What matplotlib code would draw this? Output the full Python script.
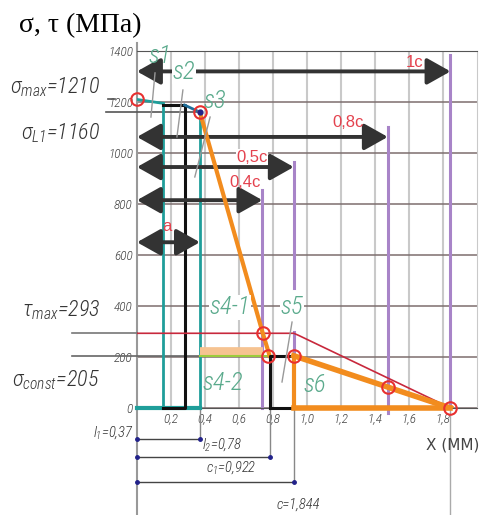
import numpy as np
import matplotlib.pyplot as plt

NARROW = ['Roboto Condensed', 'DejaVu Sans Condensed', 'Liberation Sans Narrow',
          'Roboto', 'DejaVu Sans']
plt.rcParams['mathtext.fontset'] = 'custom'
plt.rcParams['mathtext.it'] = 'Roboto Condensed:italic:light'
plt.rcParams['mathtext.rm'] = 'Roboto Condensed:italic:light'

# values (x in mm, stress in MPa)
c = 1.844
l1, l2, c1 = 0.37, 0.78, 0.922
sig_max, sig_l1, tau_max, sig_const = 1210, 1160, 293, 205

teal_x, teal_y = [0, 0.15], [1210, 1195]
box_x, box_y = [0.15, 0.28, 0.28, 0.15], [1190, 1190, 0, 0]
s3_x, s3_y = [0.28, 0.37], [1188, 1160]
orange_x, orange_y = [0.37, 0.74, 0.78], [1160, 293, 205]
step_x, step_y = [0.78, 0.78, 0.922], [0, 205, 205]
tail_x, tail_y = [0.922, 1.475, 1.844], [205, 82, 0]
tau_x, tau_y = [0, 0.922, 0.95, 1.844], [293, 293, 285, 0]
shelf_x, shelf_y = [0.37, 0.74], [218, 218]
ring_x = [0, 0.37, 0.74, 0.77, 0.922, 1.475, 1.844]
ring_y = [1210, 1160, 293, 205, 205, 82, 0]

fracs = [0.4, 0.5, 0.8, 1.0]
frac_labels = ['0,4c', '0,5c', '0,8c', '1c']
arrow_y = [815, 945, 1063, 1320]
frac_top = [855, 965, 1102, 1384]
frac_lab_x = [0.635, 0.676, 1.24, 1.635]
frac_lab_y = [886, 984, 1118, 1356]

xticks = [0.2, 0.4, 0.6, 0.8, 1.0, 1.2, 1.4, 1.6, 1.8]
xtick_labels = ['0,2', '0,4', '0,6', '0,8', '1,0', '1,2', '1,4', '1,6', '1,8']
yticks = [0, 200, 400, 600, 800, 1000, 1200, 1400]

sec_labels = ['s1', 's2', 's3', 's4-1', 's4-2', 's5', 's6']
sec_x = [0.135, 0.276, 0.46, 0.547, 0.506, 0.912, 1.047]
sec_y = [1380, 1318, 1204, 396, 98, 396, 90]
lead = [((0.106, 1314), (0.082, 1141)), ((0.27, 1247), (0.235, 1063)),
        ((0.43, 1141), (0.34, 906)), ((0.912, 337), (0.853, 102))]

fig = plt.figure(figsize=(4.79, 5.15), dpi=100)
ax = fig.add_axes([137/479, 1 - 408/515, 340/479, 357/515])
ax.set_xlim(0, 2.0)
ax.set_ylim(0, 1400)

# grid
ax.set_xticks(xticks, xtick_labels)
ax.set_yticks(yticks, [str(v) for v in yticks])
ax.tick_params(length=0, labelsize=9.5, colors='#444', pad=3)
for lab in ax.get_xticklabels() + ax.get_yticklabels():
    lab.set_family(NARROW)
    lab.set_style('italic')
    lab.set_weight('light')
ax.xaxis.grid(True, color='#c9c9c9', lw=1.5, zorder=0)
ax.yaxis.grid(True, color='#7d6e6e', lw=1.1, zorder=0)
ax.set_axisbelow(True)
for s in ['top', 'bottom']:
    ax.spines[s].set_color('#555')
ax.spines['right'].set_color('#c9c9c9')
ax.spines['left'].set_visible(False)
ax.plot([0, 0], [-420, 1430], color='#999', lw=1.5, clip_on=False, zorder=1)

# reference levels on the left
ax.plot([-0.38, 0], [tau_max, tau_max], color='#777', lw=1.2, clip_on=False)
ax.plot([-0.38, l1], [sig_const, sig_const], color='#666', lw=1.2, clip_on=False)
ax.plot([-0.18, l1], [sig_l1, sig_l1], color='#555', lw=1.2, clip_on=False)
ax.plot([-0.17, -0.13], [sig_max, sig_max], color='#555', lw=1.2, clip_on=False)

# fraction lines and arrows
head = '<|-|>,head_length=0.8,head_width=0.45'
for f, yt in zip(fracs, frac_top):
    if f == 0.5:
        ax.plot([f*c, f*c], [yt, 470], color='#a884c8', lw=2.2, zorder=2)
        ax.plot([f*c, f*c], [300, 205], color='#a884c8', lw=2.2, zorder=2)
    else:
        ax.plot([f*c, f*c], [yt, -20 if f == 0.8 else 0], color='#a884c8', lw=2.2,
                zorder=2, clip_on=False)
for f, ya in zip(fracs, arrow_y):
    ax.annotate('', xy=(f*c, ya), xytext=(0, ya),
                arrowprops=dict(arrowstyle=head, color='#333', lw=2.8, shrinkA=0,
                                shrinkB=0, mutation_scale=18), zorder=4)
for lab, x, y in zip(frac_labels, frac_lab_x, frac_lab_y):
    ax.text(x, y, lab, color='#e4424e', fontsize=12, family='Liberation Sans',
            ha='center', va='center', zorder=5,
            bbox=dict(fc='white', ec='none', pad=0.1) if lab == '0,5c' else None)
ax.annotate('', xy=(l1, 650), xytext=(0, 650),
            arrowprops=dict(arrowstyle=head, color='#333', lw=2.8, shrinkA=0,
                            shrinkB=0, mutation_scale=18), zorder=4)
ax.text(0.176, 710, 'a', color='#e4424e', fontsize=12, family='Liberation Sans',
        ha='center', va='center', zorder=5)

# stress diagram
ax.plot([0, l1], [0, 0], color='#1f9e9a', lw=3, zorder=3, clip_on=False)
ax.plot([0.15, 0.15], [1195, 0], color='#1f9e9a', lw=2, zorder=3)
ax.plot([l1, l1], [sig_l1, 0], color='#1f9e9a', lw=2, zorder=3)
ax.plot(teal_x, teal_y, color='#1f9e9a', lw=2, zorder=3)
ax.plot(box_x, box_y, color='#111', lw=2.2, zorder=3, clip_on=False)
ax.plot(s3_x, s3_y, color='#1f6e9a', lw=2, zorder=3)
ax.plot(shelf_x, shelf_y, color='#f6c391', lw=7, solid_capstyle='butt', zorder=3)
ax.plot([l1, 0.78], [sig_const, sig_const], color='#9ccc3c', lw=1.5, zorder=3)
ax.plot(tau_x, tau_y, color='#c8283c', lw=1.2, zorder=3)
ax.plot(orange_x, orange_y, color='#f28c1e', lw=3, zorder=4)
ax.plot(step_x, step_y, color='#111', lw=2.2, zorder=4, clip_on=False)
ax.plot([0.78, c1], [0, 0], color='#111', lw=2.2, zorder=4, clip_on=False)
ax.plot([c1, c1], [sig_const, 0], color='#f28c1e', lw=3, zorder=4)
ax.plot([c1, c], [0, 0], color='#f28c1e', lw=4, zorder=4, clip_on=False)
ax.plot(tail_x, tail_y, color='#f28c1e', lw=4, zorder=4)
ax.plot(ring_x, ring_y, ls='none', marker='o', ms=9, mfc='none', mec='#e83030',
        mew=1.5, zorder=6, clip_on=False)
ax.plot([l1], [sig_l1], ls='none', marker='o', ms=3.5, color='#22228a', zorder=6)

# section labels
for lab, x, y in zip(sec_labels, sec_x, sec_y):
    ax.text(x, y, lab, color='#5aaa8c', fontsize=18, family=NARROW, style='italic',
            weight='light', ha='center', va='center', zorder=5,
            bbox=dict(fc='white', ec='none', pad=0.3) if lab in ('s2', 's4-1', 's5') else None)
for (x0, y0), (x1, y1) in lead:
    ax.plot([x0, x1], [y0, y1], color='#999', lw=1, zorder=5)

# left hand labels
left_txt = [r'$\sigma_{max}$=1210', r'$\sigma_{L1}$=1160', r'$\tau_{max}$=293',
            r'$\sigma_{const}$=205']
left_y = [1259, 1078, 384, 110]
for t, y in zip(left_txt, left_y):
    ax.text(-0.215, y, t, fontsize=16, family=NARROW, style='italic', weight='light',
            color='#333', ha='right', va='center', clip_on=False)

# dimensions below the axis
dims = [(l1, -122), (l2, -192), (c1, -290)]
for x, y in dims:
    ax.plot([x, x], [0, y], color='#888', lw=1, clip_on=False)
    ax.plot([0, x], [y, y], color='#444', lw=1, clip_on=False)
    ax.plot([0, x], [y, y], ls='none', marker='o', ms=2.5, color='#22228a',
            clip_on=False)
ax.plot([c, c], [0, -420], color='#aaa', lw=1, clip_on=False)
dim_txt = [r'$l_1$=0,37', r'$l_2$=0,78', r'$c_1$=0,922', 'c=1,844']
dim_pos = [(-0.02, -98, 'right'), (0.38, -145, 'left'), (0.405, -235, 'left'),
           (0.82, -380, 'left')]
for t, (x, y, ha) in zip(dim_txt, dim_pos):
    ax.text(x, y, t, fontsize=10.5, family=NARROW, style='italic', weight='light',
            color='#333', ha=ha, va='center', clip_on=False)
ax.text(1.70, -145, 'X (ММ)', fontsize=11, color='#444', ha='left', va='center',
        clip_on=False)

fig.text(80/479, 1 - 26/515, 'σ, τ (МПа)', family='Liberation Serif', fontsize=20,
         ha='center', va='center')

fig.savefig('out.png', dpi=100)
